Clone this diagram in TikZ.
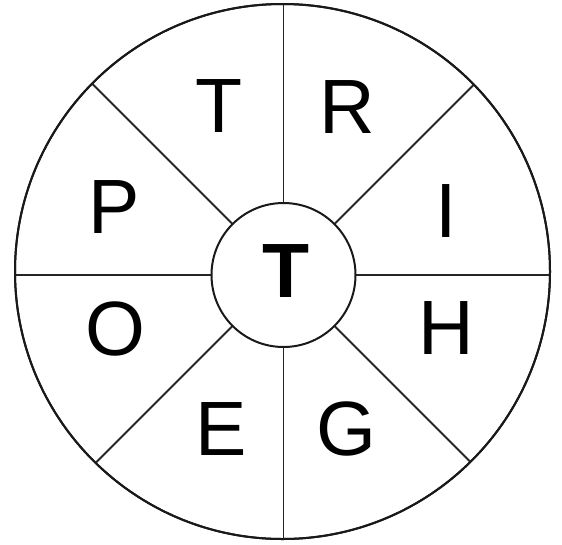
\documentclass[tikz,border=0pt]{standalone}
\usepackage{fontspec}
\setmainfont{Liberation Sans}
\usetikzlibrary{calc}
\begin{document}
\begin{tikzpicture}[x=1pt,y=-1pt,
  letter/.style={anchor=base, inner sep=0pt, font=\fontsize{77}{77}\selectfont},
  centreletter/.style={anchor=base, inner sep=0pt, font=\fontsize{77}{77}\selectfont\bfseries},
  ring/.style={draw=black!90, line width=2pt, circle, inner sep=0pt},
  spoke/.style={draw=black!85, line width=1.9pt}]
\useasboundingbox (0,0) rectangle (562,544);
\node[ring, minimum size=535pt] (rim) at (282.5,271.5) {};
\begin{scope}
  \clip (282.5,271.5) circle[radius=267.5];
  \foreach \a in {0,45,...,315}
    \draw[spoke] (283.5,275) -- ($(283.5,275)!300pt!\a:(583.5,275)$);
\end{scope}
\node[ring, minimum size=144pt, fill=white] (hub) at (283.5,275) {};
\node[ring, minimum size=535pt] (rim2) at (282.5,271.5) {};
\node[letter] (t1) at (219,132.7) {T};
\node[letter] (r) at (347.5,133) {R};
\node[letter] (i) at (446.5,237.3) {I};
\node[letter] (h) at (446,354) {H};
\node[letter] (g) at (346,455) {G};
\node[letter] (e) at (221,455) {E};
\node[letter] (o) at (115,355) {O};
\node[letter] (p) at (114,233) {P};
\node[centreletter] (t0) at (285.8,297.7) {T};
\end{tikzpicture}
\end{document}
